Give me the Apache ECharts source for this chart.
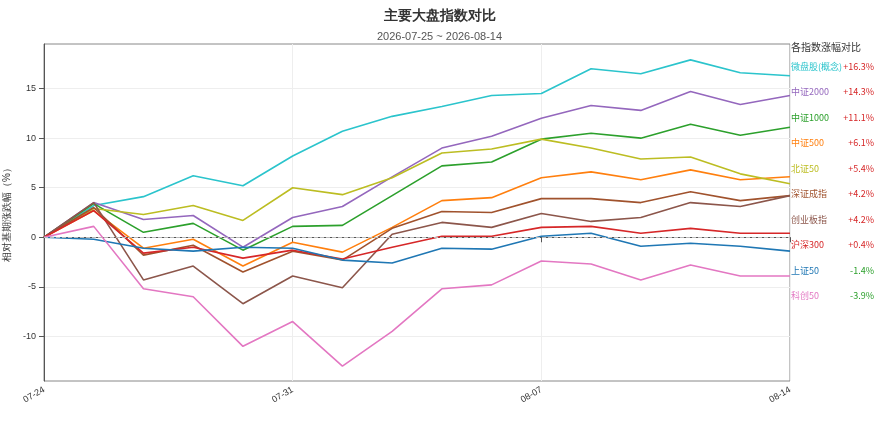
<!DOCTYPE html>
<html>
<head>
<meta charset="utf-8">
<script src="https://cdn.jsdelivr.net/npm/echarts@6/dist/echarts.min.js"></script>
<style>html,body{margin:0;padding:0;background:#fff}#main{width:879px;height:440px}</style>
</head>
<body>
<div id="main"></div>
<script>
var dates = ['07-24','07-27','07-28','07-29','07-30','07-31','08-03','08-04','08-05','08-06','08-07','08-10','08-11','08-12','08-13','08-14'];
var names = ['微盘股(概念)','中证2000','中证1000','中证500','北证50','深证成指','创业板指','沪深300','上证50','科创50'];
var colors = ['#2bc4cc','#9467bd','#2ca02c','#ff7f0e','#bcbd22','#a0522d','#8c564b','#d62728','#1f77b4','#e377c2'];
var endPct = [16.3, 14.3, 11.1, 6.1, 5.4, 4.2, 4.2, 0.4, -1.4, -3.9];
var yTicks = [-10, -5, 0, 5, 10, 15];

var weipan   = [0, 3.2, 4.1, 6.2, 5.2, 8.2, 10.7, 12.2, 13.2, 14.3, 14.5, 17.0, 16.5, 17.9, 16.6, 16.3];
var zz2000   = [0, 3.5, 1.8, 2.2, -1.0, 2.0, 3.1, 6.1, 9.0, 10.2, 12.0, 13.3, 12.8, 14.7, 13.4, 14.3];
var zz1000   = [0, 3.4, 0.5, 1.4, -1.3, 1.1, 1.2, 4.2, 7.2, 7.6, 9.9, 10.5, 10.0, 11.4, 10.3, 11.1];
var zz500    = [0, 2.7, -1.1, -0.2, -2.9, -0.5, -1.5, 1.0, 3.7, 4.0, 6.0, 6.6, 5.8, 6.8, 5.8, 6.1];
var bz50     = [0, 2.9, 2.3, 3.2, 1.7, 5.0, 4.3, 6.0, 8.5, 8.9, 9.9, 9.0, 7.9, 8.1, 6.4, 5.4];
var szcz     = [0, 3.0, -1.8, -0.8, -3.5, -1.4, -2.3, 0.9, 2.6, 2.5, 3.9, 3.9, 3.5, 4.6, 3.7, 4.2];
var cybz     = [0, 3.5, -4.3, -2.9, -6.7, -3.9, -5.1, 0.3, 1.5, 1.0, 2.4, 1.6, 2.0, 3.5, 3.1, 4.2];
var hs300    = [0, 2.7, -1.6, -1.0, -2.1, -1.3, -2.2, -1.0, 0.1, 0.1, 1.0, 1.1, 0.4, 0.9, 0.4, 0.4];
var sz50     = [0, -0.2, -1.1, -1.4, -1.0, -1.1, -2.3, -2.6, -1.1, -1.2, 0.1, 0.4, -0.9, -0.6, -0.9, -1.4];
var kc50     = [0, 1.1, -5.2, -6.0, -11.0, -8.5, -13.0, -9.5, -5.2, -4.8, -2.4, -2.7, -4.3, -2.8, -3.9, -3.9];
var allData = [weipan, zz2000, zz1000, zz500, bz50, szcz, cybz, hs300, sz50, kc50];

var chart = echarts.init(document.getElementById('main'));

var series = names.map(function (n, i) {
    var s = {
        name: n,
        type: 'line',
        data: allData[i],
        showSymbol: false,
        lineStyle: {width: 1.6, color: colors[i]},
        itemStyle: {color: colors[i]}
    };
    if (i === 0) {
        s.markLine = {
            silent: true,
            symbol: 'none',
            label: {show: false},
            lineStyle: {color: '#bbb', type: 'dashed', width: 1},
            data: [{yAxis: 0}]
        };
    }
    return s;
});

var graphics = [{
    type: 'text', left: 791, top: 42,
    style: {text: '各指数涨幅对比', fill: '#333', font: '10px "Noto Sans CJK SC"'}
}];
names.forEach(function (n, i) {
    var y = 62 + i * 25.5;
    graphics.push({
        type: 'text', left: 791, top: y,
        style: {text: n, fill: colors[i], font: '9px "Noto Sans CJK SC"'}
    });
    var v = endPct[i];
    graphics.push({
        type: 'text', right: 5, top: y,
        style: {text: (v > 0 ? '+' : '') + v.toFixed(1) + '%', fill: v >= 0 ? '#d62728' : '#2ca02c', font: '9px "Noto Sans CJK SC"'}
    });
});

var option = {
    title: {
        text: '主要大盘指数对比',
        subtext: '2026-07-25 ~ 2026-08-14',
        left: 'center',
        top: 4,
        itemGap: 8,
        textStyle: {fontSize: 14, fontWeight: 'bold', color: '#333'},
        subtextStyle: {fontSize: 11, color: '#555'}
    },
    grid: {left: 44, right: 89, top: 44, bottom: 59, outerBoundsMode: 'none', show: true, borderColor: '#888', borderWidth: 1},
    xAxis: {
        type: 'category',
        data: dates,
        boundaryGap: false,
        axisLine: {lineStyle: {color: '#555'}},
        axisTick: {interval: 4, lineStyle: {color: '#555'}},
        axisLabel: {interval: 4, rotate: 30, fontSize: 9, color: '#333'},
        splitLine: {show: true, interval: 4, lineStyle: {color: '#eee'}}
    },
    yAxis: {
        type: 'value',
        min: -14.5,
        max: 19.5,
        name: '相对基期涨跌幅（%）',
        nameLocation: 'middle',
        nameGap: 26,
        nameTextStyle: {fontSize: 10, color: '#333'},
        axisLine: {show: true, lineStyle: {color: '#555'}},
        axisTick: {show: true, customValues: yTicks, lineStyle: {color: '#555'}},
        axisLabel: {customValues: yTicks, fontSize: 9, color: '#333'},
        splitLine: {show: true, lineStyle: {color: '#eee'}}
    },
    series: series,
    graphic: graphics
};
chart.setOption(option);
window.addEventListener('resize', function () {
    chart.resize();
});
</script>
</body>
</html>
